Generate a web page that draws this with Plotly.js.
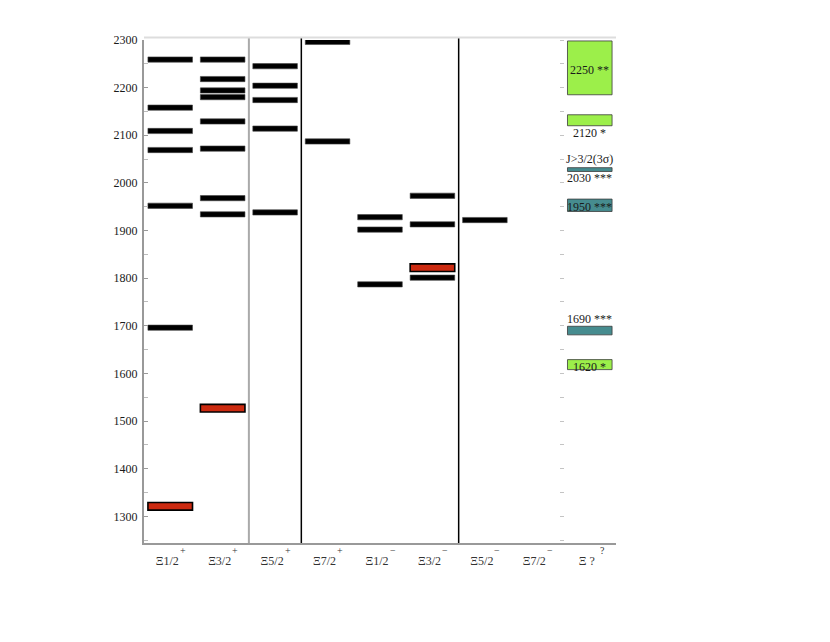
<!DOCTYPE html>
<html><head><meta charset="utf-8">
<script src="https://cdn.plot.ly/plotly-3.0.1.min.js"></script>
<style>html,body{margin:0;padding:0;background:#fff}</style>
</head><body><div id="chart" style="width:830px;height:642px"></div>
<script>
// ---- data ----
const categories = ['Ξ1/2','Ξ3/2','Ξ5/2','Ξ7/2','Ξ1/2','Ξ3/2','Ξ5/2','Ξ7/2','Ξ ?'];
const parities   = ['+','+','+','+','−','−','−','−','?'];

// predicted levels (MeV) per column
const xi12p = [2259, 2158, 2109, 2069, 1952, 1696];
const xi32p = [2259, 2218, 2194, 2180, 2129, 2072, 1968, 1934];
const xi52p = [2245, 2204, 2174, 2114, 1938];
const xi72p = [2296, 2087];
const xi12m = [1928, 1902, 1787];
const xi32m = [1973, 1913, 1801];
const xi52m = [1922];
const xi72m = [];
const predicted = [xi12p, xi32p, xi52p, xi72p, xi12m, xi32m, xi52m, xi72m, []];

// established states (red)
const obsCol  = [0, 1, 5];
const obsMass = [1321, 1527, 1822];

// unassigned experimental states (column Ξ ?)
const expLo    = [2185, 2120, 2024, 1940, 1681, 1608];
const expHi    = [2298, 2143, 2032, 1966, 1699, 1629];
const expKind  = ['g', 'g', 't', 't', 't', 'g'];
const expLabel = ['2250 **', '2120 *', '2030 ***', '1950 ***', '1690 ***', '1620 *'];
const expLabelWhere = ['in', 'below', 'below', 'in', 'above', 'in'];
const expNote  = ['', '', 'J>3/2(3σ)', '', '', ''];

// ---- styles ----
const SERIF = 'Liberation Serif, Times New Roman, serif';
const PRED_H = 11, OBS_H = 16, BAR_W = 0.85;
const colorOf = {g: '#9cef4a', t: '#468c8f'};
const unknownCol = categories.length - 1;

const traces = [];
const px = [], pb = [], ph = [];
predicted.forEach((arr, i) => arr.forEach(m => { px.push(i); pb.push(m - PRED_H / 2); ph.push(PRED_H); }));
traces.push({type: 'bar', x: px, y: ph, base: pb, width: BAR_W,
  marker: {color: '#000', line: {width: 0.6, color: '#444'}}, hoverinfo: 'skip', showlegend: false});

traces.push({type: 'bar', x: obsCol, y: obsMass.map(() => OBS_H), base: obsMass.map(m => m - OBS_H / 2), width: BAR_W,
  marker: {color: '#cc2a10', line: {width: 1.6, color: '#000'}}, hoverinfo: 'skip', showlegend: false});

traces.push({type: 'bar', x: expLo.map(() => unknownCol), y: expHi.map((h, i) => h - expLo[i]), base: expLo, width: BAR_W,
  marker: {color: expKind.map(k => colorOf[k]), line: {width: 0.8, color: '#3a3a3a'}}, hoverinfo: 'skip', showlegend: false});

// invisible trace for the secondary tick axis
traces.push({type: 'scatter', x: [0], y: [1300], yaxis: 'y2', mode: 'markers', marker: {opacity: 0}, hoverinfo: 'skip', showlegend: false});

const annotations = [];
parities.forEach((p, i) => annotations.push({x: i + 0.24, xref: 'x', y: 0, yref: 'paper', yanchor: 'top', yshift: 0,
  text: p, showarrow: false, font: {family: SERIF, size: 10, color: '#333'}}));

expLabel.forEach((t, i) => {
  const w = expLabelWhere[i];
  const a = {x: unknownCol, xref: 'x', yref: 'y', text: t, showarrow: false,
    font: {family: SERIF, size: 12, color: '#1a1a1a'}, xanchor: 'center'};
  if (w === 'in') { a.y = (expLo[i] + expHi[i]) / 2; a.yanchor = 'middle'; a.yshift = -2; }
  else if (w === 'below') { a.y = expLo[i]; a.yanchor = 'top'; a.yshift = 2; }
  else { a.y = expHi[i]; a.yanchor = 'bottom'; a.yshift = -2; }
  annotations.push(a);
  if (expNote[i]) annotations.push({x: unknownCol, xref: 'x', y: expHi[i], yref: 'y', yanchor: 'bottom', yshift: 0,
    text: expNote[i], showarrow: false, font: {family: SERIF, size: 12, color: '#1a1a1a'}});
});

const shapes = [
  {type: 'line', xref: 'x', yref: 'paper', x0: 1.5, x1: 1.5, y0: 0, y1: 1.005, line: {color: '#aaa', width: 2}},
  {type: 'line', xref: 'x', yref: 'paper', x0: 2.5, x1: 2.5, y0: 0, y1: 1.005, line: {color: '#000', width: 1.5}},
  {type: 'line', xref: 'x', yref: 'paper', x0: 5.5, x1: 5.5, y0: 0, y1: 1.005, line: {color: '#000', width: 1.5}},
  {type: 'line', xref: 'paper', yref: 'paper', x0: 0, x1: 1, y0: 1.005, y1: 1.005, line: {color: '#ddd', width: 2}}
];

const yRange = [1244, 2300];
const layout = {
  width: 830, height: 642,
  margin: {l: 144, r: 214, t: 40, b: 99},
  paper_bgcolor: '#fff', plot_bgcolor: '#fff',
  barmode: 'overlay',
  showlegend: false,
  xaxis: {range: [-0.5, 8.5], tickvals: categories.map((c, i) => i), ticktext: categories,
    showline: true, linecolor: '#999', linewidth: 2, ticks: '', showgrid: false, zeroline: false,
    tickfont: {family: SERIF, size: 12, color: '#333'}, ticklabelshift: -3, ticklabelstandoff: 6, fixedrange: true},
  yaxis: {range: yRange, tick0: 0, dtick: 100, ticks: 'inside', ticklen: 4, tickcolor: '#999', tickwidth: 1,
    showline: true, linecolor: '#999', linewidth: 2, showgrid: false, zeroline: false,
    minor: {dtick: 50, tick0: 0, ticks: 'inside', ticklen: 4, tickcolor: '#bbb'},
    tickfont: {family: SERIF, size: 12, color: '#1a1a1a'}, ticklabelstandoff: 2},
  yaxis2: {overlaying: 'y', anchor: 'free', position: 0.8898, side: 'left', range: yRange, tick0: 0, dtick: 50,
    ticks: 'outside', ticklen: 4, tickcolor: '#c4c4c4', showticklabels: false, showline: false, showgrid: false, zeroline: false},
  annotations: annotations,
  shapes: shapes
};

Plotly.newPlot('chart', traces, layout, {displayModeBar: false, staticPlot: true});
</script>
</body></html>
